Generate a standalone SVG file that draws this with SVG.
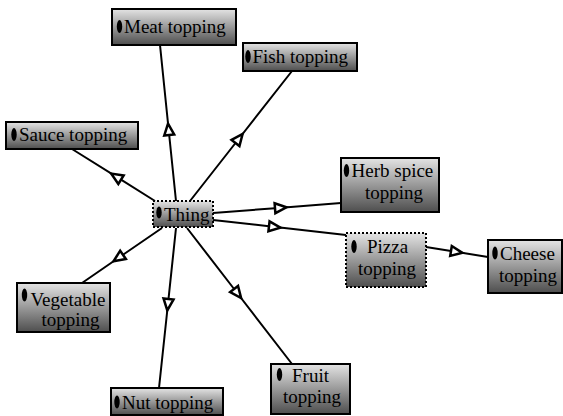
<svg xmlns="http://www.w3.org/2000/svg" width="563" height="416" viewBox="0 0 563 416">
<defs>
<linearGradient id="g" x1="0" y1="0" x2="0" y2="1">
<stop offset="0" stop-color="#e4e4e4"/>
<stop offset="1" stop-color="#4e4e4e"/>
</linearGradient>
<marker id="tri" markerUnits="userSpaceOnUse" viewBox="-3 -8 18 16" markerWidth="18" markerHeight="16" refX="0" refY="0" orient="auto">
<path d="M0,-5 L11.5,0 L0,5 Z" fill="#fff" stroke="#000" stroke-width="2.5" stroke-linejoin="miter"/>
</marker>
<style>
.box{fill:url(#g);stroke:#000;stroke-width:2}
.dot{stroke-dasharray:2,2}
.b{fill:#000}
.c{fill:none;stroke:#000;stroke-width:2;marker-mid:url(#tri)}
</style>
</defs>
<g id="connectors">
<polyline class="c" points="176,201 169.2,135 160,45"/>
<polyline class="c" points="190,201 235.5,143 292,71"/>
<polyline class="c" points="155,201 121,179.7 72,149"/>
<polyline class="c" points="213,213 275,208.2 341,203"/>
<polyline class="c" points="213,220 269,226.3 346,235"/>
<polyline class="c" points="426,247 451,251 488,257"/>
<polyline class="c" points="162,228 123,254.8 82,283"/>
<polyline class="c" points="176,228 168.5,299 159,388"/>
<polyline class="c" points="187,228 234.1,289 292,364"/>
</g>
<g font-family="Liberation Serif, DejaVu Serif, serif" font-size="19" fill="#000">
<g id="meat">
<rect class="box" x="112" y="9" width="124" height="36"/>
<ellipse class="b" cx="119.5" cy="26.5" rx="2.7" ry="6.5"/>
<text x="124" y="33">Meat topping</text>
</g>
<g id="fish">
<rect class="box" x="243" y="43" width="114" height="28"/>
<ellipse class="b" cx="248" cy="56.5" rx="2.7" ry="6.5"/>
<text x="252.5" y="63">Fish topping</text>
</g>
<g id="sauce">
<rect class="box" x="6" y="122" width="132" height="27"/>
<ellipse class="b" cx="14" cy="134.5" rx="2.7" ry="6.5"/>
<text x="19" y="141">Sauce topping</text>
</g>
<g id="thing">
<rect class="box dot" x="153" y="201" width="60" height="26"/>
<ellipse class="b" cx="159" cy="212.5" rx="2.7" ry="6"/>
<text x="164" y="221">Thing</text>
</g>
<g id="herb">
<rect class="box" x="341" y="158" width="98" height="54"/>
<ellipse class="b" cx="346.5" cy="170.5" rx="2.7" ry="6.5"/>
<text x="351.5" y="177">Herb spice</text>
<text x="365" y="199">topping</text>
</g>
<g id="pizza">
<rect class="box dot" x="346" y="233" width="80" height="54"/>
<ellipse class="b" cx="354" cy="246.5" rx="2.7" ry="6.5"/>
<text x="367" y="253">Pizza</text>
<text x="358" y="275">topping</text>
</g>
<g id="cheese">
<rect class="box" x="488" y="240" width="74" height="53"/>
<ellipse class="b" cx="495" cy="253" rx="2.7" ry="6.5"/>
<text x="500" y="260">Cheese</text>
<text x="499" y="282">topping</text>
</g>
<g id="vegetable">
<rect class="box" x="17" y="283" width="93" height="49"/>
<ellipse class="b" cx="24.5" cy="295" rx="2.7" ry="6.5"/>
<text x="30.5" y="306">Vegetable</text>
<text x="41.5" y="326">topping</text>
</g>
<g id="nut">
<rect class="box" x="111" y="388" width="112" height="27"/>
<ellipse class="b" cx="117" cy="402" rx="2.7" ry="6.5"/>
<text x="122" y="409">Nut topping</text>
</g>
<g id="fruit">
<rect class="box" x="271" y="364" width="79" height="50"/>
<ellipse class="b" cx="279.5" cy="374.5" rx="2.7" ry="6.5"/>
<text x="292" y="381.5">Fruit</text>
<text x="283" y="403">topping</text>
</g>
</g>
</svg>
